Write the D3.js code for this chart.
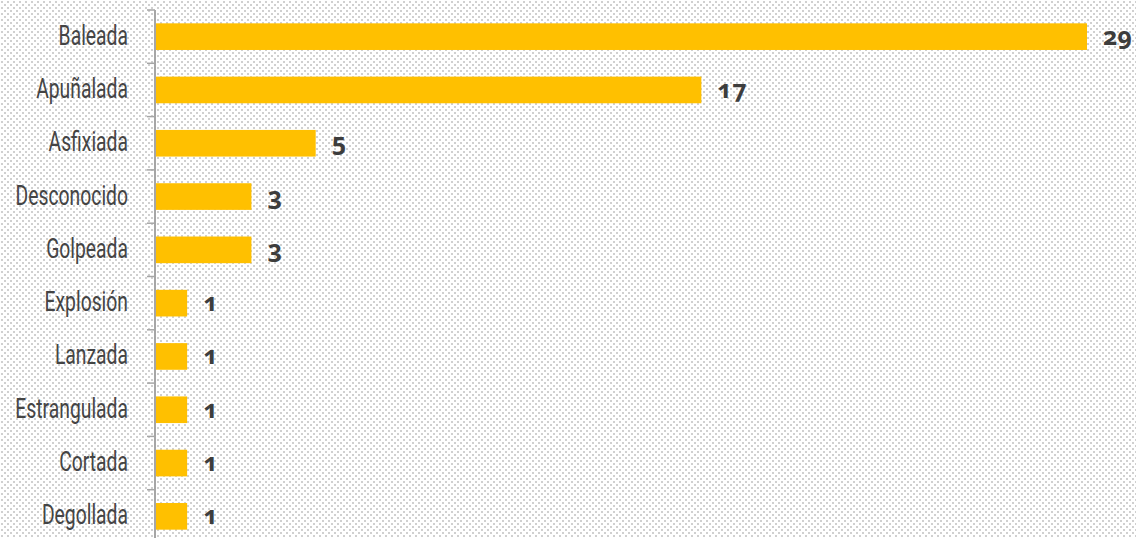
<!DOCTYPE html>
<html>
<head>
<meta charset="utf-8">
<script src="https://cdn.jsdelivr.net/npm/d3@7/dist/d3.min.js"></script>
<style>
  html, body { margin: 0; padding: 0; background: #fff; }
  svg { display: block; }
  .cat { font-family: "Roboto", sans-serif; font-size: 28px; fill: #444; }
  .val { font-family: "Noto Sans", sans-serif; font-weight: bold; font-size: 25px; fill: #3d3d3d; }
</style>
</head>
<body>
<svg class="chart"></svg>
<script>
// Datos
var categories = ["Baleada", "Apuñalada", "Asfixiada", "Desconocido", "Golpeada",
  "Explosión", "Lanzada", "Estrangulada", "Cortada", "Degollada"];
var values = [29, 17, 5, 3, 3, 1, 1, 1, 1, 1];

var width = 1136, height = 538;
var svg = d3.select(".chart").attr("width", width).attr("height", height);

// fond en pointillés
var defs = svg.append("defs");
var pat = defs.append("pattern")
  .attr("id", "dots")
  .attr("width", 6).attr("height", 6)
  .attr("patternUnits", "userSpaceOnUse");
pat.append("rect").attr("x", 1).attr("y", 1).attr("width", 2).attr("height", 2).attr("fill", "#d0d0d0");
pat.append("rect").attr("x", 4).attr("y", 4).attr("width", 2).attr("height", 2).attr("fill", "#d0d0d0");
svg.append("rect").attr("width", width).attr("height", height).attr("fill", "url(#dots)");

var x0 = 155;
var x = d3.scaleLinear().domain([0, 29]).range([x0, 1087]);
var y = d3.scaleBand().domain(categories).range([10, 543]).paddingInner(0.5).paddingOuter(0.25);
var step = y.step();

// barres
svg.selectAll("rect.bar")
  .data(values)
  .enter().append("rect")
  .attr("class", "bar")
  .attr("x", x(0))
  .attr("y", function(d, i) { return y(categories[i]); })
  .attr("width", function(d) { return x(d) - x(0); })
  .attr("height", y.bandwidth())
  .attr("fill", "#ffc000");

// axe vertical + ticks aux limites des bandes
svg.append("line")
  .attr("x1", x0).attr("x2", x0)
  .attr("y1", 10).attr("y2", height)
  .attr("stroke", "#a6a6a6").attr("stroke-width", 2);
svg.selectAll("line.tick")
  .data(categories)
  .enter().append("line")
  .attr("class", "tick")
  .attr("x1", x0 - 8).attr("x2", x0)
  .attr("y1", function(c) { return y(c) - step * 0.25; })
  .attr("y2", function(c) { return y(c) - step * 0.25; })
  .attr("stroke", "#a6a6a6").attr("stroke-width", 1.5);

// libellés des catégories (police condensée par échelle horizontale)
svg.selectAll("text.cat")
  .data(categories)
  .enter().append("text")
  .attr("class", "cat")
  .attr("text-anchor", "end")
  .attr("transform", function(c) {
    return "translate(128," + (y(c) + y.bandwidth() / 2 + 8) + ") scale(0.69,1)";
  })
  .text(function(c) { return c; });

// valeurs (chiffres elzéviriens)
svg.selectAll("text.val")
  .data(values)
  .enter().append("text")
  .attr("class", "val")
  .attr("style", "font-variant-numeric: oldstyle-nums; font-feature-settings: 'onum' 1;")
  .attr("x", function(d) { return x(d) + 16; })
  .attr("y", function(d, i) { return y(categories[i]) + y.bandwidth() / 2 + 8; })
  .text(function(d) { return d; });
</script>
</body>
</html>
